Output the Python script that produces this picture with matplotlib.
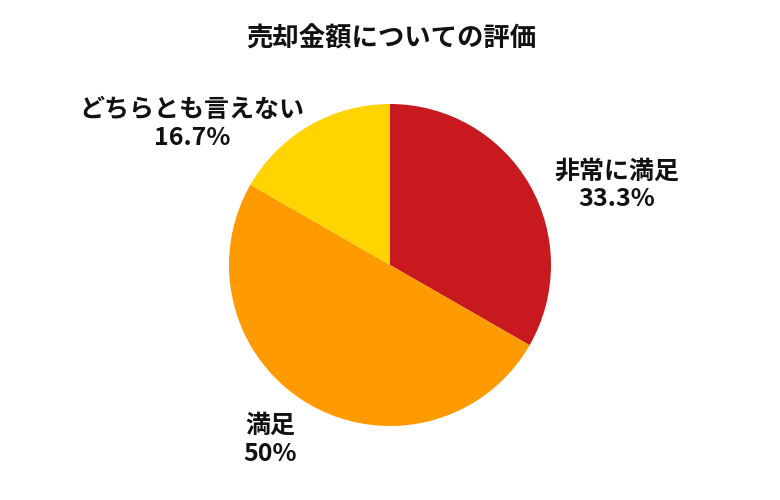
import matplotlib
matplotlib.use("Agg")
import matplotlib.pyplot as plt

plt.rcParams['font.family'] = ['Noto Sans CJK JP', 'DejaVu Sans']

title = "売却金額についての評価"
categories = ["非常に満足", "満足", "どちらとも言えない"]
values = [33.3, 50.0, 16.7]
pct_labels = ["33.3%", "50%", "16.7%"]
colors = ["#C8191E", "#FF9A00", "#FFD400"]

fig = plt.figure(figsize=(7.8, 5), dpi=100)
ax = fig.add_axes([0, 0, 1, 1])

ax.pie(values, colors=colors, startangle=90, counterclock=False,
       center=(390, 235), radius=161, frame=True,
       wedgeprops=dict(linewidth=0))
ax.set_xlim(0, 780)
ax.set_ylim(0, 500)
ax.set_aspect('equal')
ax.axis('off')

label_pos = [(617, 315), (270, 60), (192, 376)]
for cat, pct, (x, y) in zip(categories, pct_labels, label_pos):
    ax.text(x, y, f"{cat}\n{pct}", ha='center', va='center',
            fontsize=18, fontweight='bold', color='#111111', linespacing=1.18)

ax.text(391, 461, title, ha='center', va='center', fontsize=19,
        fontweight='bold', color='#111111')

fig.savefig("out.png", dpi=100)
